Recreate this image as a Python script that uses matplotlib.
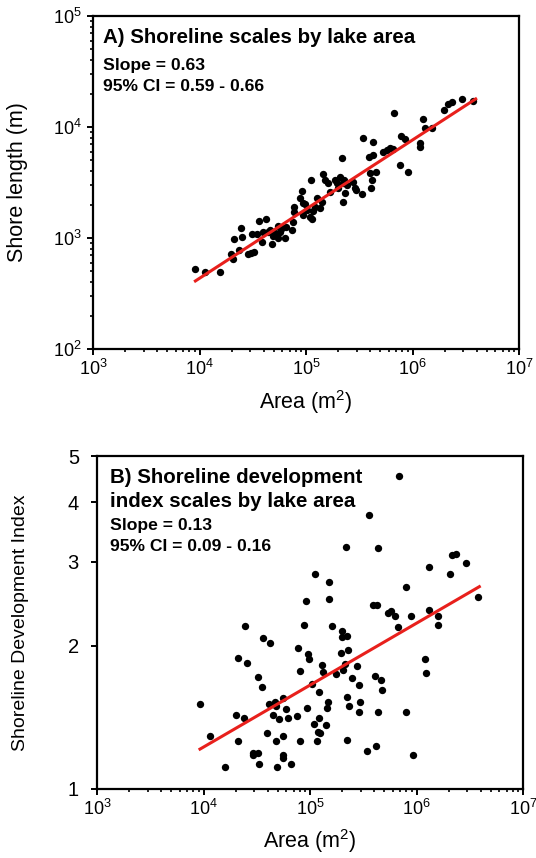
import numpy as np
import matplotlib
matplotlib.use("Agg")
import matplotlib.pyplot as plt
from matplotlib.ticker import LogLocator, FixedLocator, NullLocator, FixedFormatter, NullFormatter

plt.rcParams['font.family'] = ['Liberation Sans', 'DejaVu Sans']
plt.rcParams['mathtext.fontset'] = 'custom'
plt.rcParams['mathtext.rm'] = 'Liberation Sans'
plt.rcParams['mathtext.it'] = 'Liberation Sans:italic'
plt.rcParams['mathtext.bf'] = 'Liberation Sans:bold'

# ---------------- Panel A data ----------------
area_a = [9020, 11270, 15560, 19630, 20470, 21230, 23500, 24380, 25080, 28770,
          30710, 32520, 31350, 34430, 36480, 38650, 39200, 42100, 43950, 45920,
          48300, 48660, 51530, 54200, 54950, 57000, 59150, 63550, 64900, 73300,
          75500, 77100, 77700, 87800, 91000, 93100, 94400, 97900, 103000, 109200,
          111500, 113100, 117200, 121500, 127700, 135300, 140300, 145500, 150700, 162000,
          168000, 187100, 194100, 201300, 208500, 216200, 220900, 224300, 227500, 232400,
          240900, 278200, 288500, 294600, 333200, 345400, 387500, 399000, 407700, 419800,
          422900, 428700, 454200, 532300, 571900, 614800, 660700, 675000, 763200, 774000,
          850500, 914800, 1176000, 1176000, 1264000, 1310000, 1513000, 1991000, 2170000, 2333000,
          2896000, 3726000]
shore_a = [523, 498, 498, 718, 643, 973, 780, 1222, 1014, 718,
           738, 753, 1079, 1079, 1422, 927, 1125, 1483, 1141, 1181,
           877, 1050, 1117, 1007, 1291, 1141, 1239, 1007, 1265, 1181,
           1403, 1914, 1726, 2306, 2649, 1611, 2051, 2024, 1786, 1556,
           3336, 1483, 1762, 1914, 2274, 1850, 2094, 3750, 3336, 3104,
           2576, 3336, 3104, 2799, 3573, 5297, 2123, 3104, 3336, 2523,
           2999, 3223, 2799, 2705, 2472, 7907, 5410, 3829, 2799, 3336,
           7380, 5598, 3965, 5998, 6209, 6430, 6340, 13280, 4550, 8298,
           7743, 3965, 7129, 6653, 11800, 9726, 9726, 14220, 16110, 16670,
           17870, 17260]
fit_a_x = [9150, 3920000]
slope_a = 0.623
intercept_a = 0.145   # log10 intercept

# ---------------- Panel B data ----------------
area_b = [690000, 360600, 217800, 431500, 2172000, 2352000, 2918000, 1309000, 2066000, 111400,
          150700, 803700, 3810000, 91600, 151900, 393500, 428800, 544300, 576800, 628800,
          881400, 1318000, 1580000, 1580000, 674500, 87900, 162100, 24550, 198200, 201200,
          221000, 36480, 42470, 77630, 96400, 97900, 229200, 194100, 21230, 25420,
          1202000, 128800, 80500, 131600, 205600, 213300, 278200, 174200, 1220000, 32280,
          404500, 467500, 246000, 35400, 103800, 288500, 477600, 122400, 9270, 41220,
          46900, 55340, 221000, 148600, 294500, 47960, 59570, 93000, 145600, 233800,
          20180, 23990, 44570, 51500, 62650, 76070, 120500, 290400, 431500, 791000,
          110000, 141300, 39730, 55340, 118900, 124200, 11510, 20940, 47960, 80500,
          115600, 221000, 417200, 345400, 920500, 29380, 32750, 29380, 55340, 55340,
          15920, 33420, 48640, 66370]
sdi_b = [4.54, 3.76, 3.22, 3.20, 3.10, 3.12, 2.98, 2.92, 2.83, 2.83,
         2.72, 2.66, 2.53, 2.48, 2.50, 2.43, 2.43, 2.34, 2.36, 2.31,
         2.31, 2.38, 2.31, 2.21, 2.19, 2.21, 2.20, 2.20, 2.15, 2.08,
         2.09, 2.07, 2.03, 1.98, 1.92, 1.87, 1.96, 1.93, 1.88, 1.84,
         1.87, 1.82, 1.77, 1.76, 1.78, 1.83, 1.81, 1.74, 1.75, 1.72,
         1.73, 1.69, 1.71, 1.64, 1.66, 1.65, 1.61, 1.60, 1.51, 1.51,
         1.52, 1.55, 1.56, 1.52, 1.52, 1.49, 1.47, 1.48, 1.48, 1.49,
         1.43, 1.41, 1.43, 1.40, 1.41, 1.42, 1.41, 1.45, 1.45, 1.45,
         1.37, 1.36, 1.31, 1.29, 1.32, 1.31, 1.29, 1.26, 1.26, 1.26,
         1.26, 1.27, 1.23, 1.20, 1.18, 1.19, 1.19, 1.18, 1.18, 1.16,
         1.11, 1.13, 1.11, 1.13]
fit_b_x = [9270, 3890000]
slope_b = 0.130
intercept_b = -0.432

x_ticks = [1e3, 1e4, 1e5, 1e6, 1e7]
x_ticklabels = ['$10^3$', '$10^4$', '$10^5$', '$10^6$', '$10^7$']
ya_ticks = [1e2, 1e3, 1e4, 1e5]
ya_ticklabels = ['$10^2$', '$10^3$', '$10^4$', '$10^5$']
yb_ticks = [1, 2, 3, 4, 5]
yb_ticklabels = ['1', '2', '3', '4', '5']

title_a = "A) Shoreline scales by lake area"
stats_a = ["Slope = 0.63", "95% CI = 0.59 - 0.66"]
title_b = ["B) Shoreline development", "index scales by lake area"]
stats_b = ["Slope = 0.13", "95% CI = 0.09 - 0.16"]

RED = '#e8201c'
TITLE_FS = 14.8
STATS_FS = 12.6

fig = plt.figure(figsize=(5.36, 8.58), dpi=100)
axA = fig.add_axes([93/536, 1 - 349/858, 426/536, 333/858])
axB = fig.add_axes([97/536, 1 - 789/858, 426/536, 333/858])


def style(ax):
    for s in ax.spines.values():
        s.set_linewidth(1.6)
        s.set_color('black')
    ax.tick_params(which='major', direction='out', length=4, width=1.4, labelsize=13, pad=3)
    ax.tick_params(which='minor', direction='out', length=2.5, width=1.2)


# Panel A
axA.set_xscale('log')
axA.set_yscale('log')
axA.set_xlim(1e3, 1e7)
axA.set_ylim(1e2, 1e5)
axA.scatter(area_a, shore_a, s=28, color='black', zorder=3, linewidths=0)
fx = np.array(fit_a_x)
axA.plot(fx, 10 ** intercept_a * fx ** slope_a, color=RED, lw=2.2, zorder=4)
axA.xaxis.set_major_locator(FixedLocator(x_ticks))
axA.xaxis.set_major_formatter(FixedFormatter(x_ticklabels))
axA.xaxis.set_minor_locator(LogLocator(base=10, subs=np.arange(2, 10)))
axA.xaxis.set_minor_formatter(NullFormatter())
axA.yaxis.set_major_locator(FixedLocator(ya_ticks))
axA.yaxis.set_major_formatter(FixedFormatter(ya_ticklabels))
axA.yaxis.set_minor_locator(LogLocator(base=10, subs=np.arange(2, 10)))
axA.yaxis.set_minor_formatter(NullFormatter())
style(axA)
axA.tick_params(axis='y', which='major', pad=4)
axA.set_xlabel('Area (m$^2$)', fontsize=15.5)
axA.xaxis.set_label_coords(0.5, -0.118)
axA.set_ylabel('Shore length (m)', fontsize=15.5)
axA.yaxis.set_label_coords(-0.152, 0.5)
axA.text(0.023, 0.918, title_a, transform=axA.transAxes, fontsize=TITLE_FS,
         fontweight='bold', va='baseline', ha='left')
axA.text(0.023, 0.838, stats_a[0], transform=axA.transAxes, fontsize=STATS_FS,
         fontweight='bold', va='baseline', ha='left')
axA.text(0.023, 0.776, stats_a[1], transform=axA.transAxes, fontsize=STATS_FS,
         fontweight='bold', va='baseline', ha='left')

# Panel B
axB.set_xscale('log')
axB.set_yscale('log')
axB.set_xlim(1e3, 1e7)
axB.set_ylim(1, 5)
axB.scatter(area_b, sdi_b, s=28, color='black', zorder=3, linewidths=0)
fx = np.array(fit_b_x)
axB.plot(fx, 10 ** intercept_b * fx ** slope_b, color=RED, lw=2.2, zorder=4)
axB.xaxis.set_major_locator(FixedLocator(x_ticks))
axB.xaxis.set_major_formatter(FixedFormatter(x_ticklabels))
axB.xaxis.set_minor_locator(LogLocator(base=10, subs=np.arange(2, 10)))
axB.xaxis.set_minor_formatter(NullFormatter())
axB.yaxis.set_major_locator(FixedLocator(yb_ticks))
axB.yaxis.set_major_formatter(FixedFormatter(yb_ticklabels))
axB.yaxis.set_minor_locator(NullLocator())
style(axB)
axB.tick_params(axis='y', labelsize=14.5, pad=9)
axB.set_xlabel('Area (m$^2$)', fontsize=15.5)
axB.xaxis.set_label_coords(0.5, -0.115)
axB.set_ylabel('Shoreline Development Index', fontsize=14)
axB.yaxis.set_label_coords(-0.16, 0.5)
axB.text(0.0305, 0.918, title_b[0], transform=axB.transAxes, fontsize=TITLE_FS,
         fontweight='bold', va='baseline', ha='left')
axB.text(0.0305, 0.848, title_b[1], transform=axB.transAxes, fontsize=TITLE_FS,
         fontweight='bold', va='baseline', ha='left')
axB.text(0.0305, 0.778, stats_b[0], transform=axB.transAxes, fontsize=STATS_FS,
         fontweight='bold', va='baseline', ha='left')
axB.text(0.0305, 0.716, stats_b[1], transform=axB.transAxes, fontsize=STATS_FS,
         fontweight='bold', va='baseline', ha='left')

fig.savefig('out.png', dpi=100)
